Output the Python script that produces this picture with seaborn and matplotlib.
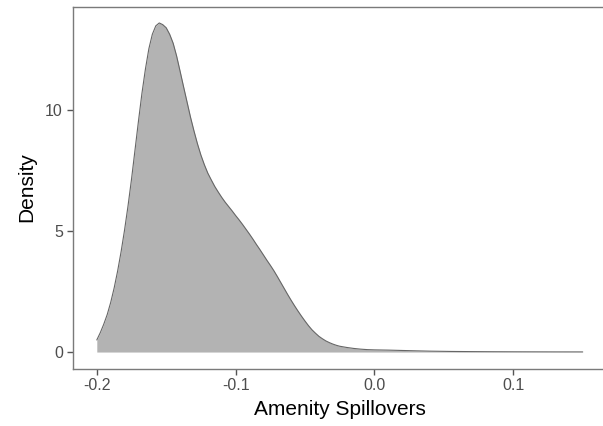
import matplotlib
matplotlib.use("Agg")
import matplotlib.pyplot as plt
import seaborn as sns
import pandas as pd

# Estimated density curve of amenity spillovers
spillover = [-0.2000, -0.1975, -0.1950, -0.1925, -0.1900, -0.1875, -0.1850, -0.1825,
             -0.1800, -0.1775, -0.1750, -0.1725, -0.1700, -0.1675, -0.1650, -0.1625,
             -0.1600, -0.1575, -0.1550, -0.1525, -0.1500, -0.1475, -0.1450, -0.1425,
             -0.1400, -0.1375, -0.1350, -0.1325, -0.1300, -0.1275, -0.1250, -0.1225,
             -0.1200, -0.1175, -0.1150, -0.1125, -0.1100, -0.1075, -0.1050, -0.1025,
             -0.1000, -0.0975, -0.0950, -0.0925, -0.0900, -0.0875, -0.0850, -0.0825,
             -0.0800, -0.0775, -0.0750, -0.0725, -0.0700, -0.0675, -0.0650, -0.0625,
             -0.0600, -0.0575, -0.0550, -0.0525, -0.0500, -0.0475, -0.0450, -0.0425,
             -0.0400, -0.0375, -0.0350, -0.0325, -0.0300, -0.0275, -0.0250, -0.0200,
             -0.0150, -0.0100, -0.0050, 0.0000, 0.0100, 0.0200, 0.0300, 0.0400,
             0.0550, 0.0700, 0.0850, 0.1000, 0.1150, 0.1300, 0.1500]
density = [0.50, 0.80, 1.15, 1.55, 2.05, 2.65, 3.35, 4.15,
           5.05, 6.05, 7.15, 8.35, 9.55, 10.70, 11.70, 12.55,
           13.15, 13.50, 13.62, 13.55, 13.42, 13.15, 12.78, 12.25,
           11.62, 10.98, 10.35, 9.72, 9.15, 8.62, 8.15, 7.75,
           7.40, 7.12, 6.85, 6.62, 6.40, 6.20, 6.02, 5.84,
           5.65, 5.47, 5.28, 5.08, 4.88, 4.67, 4.45, 4.24,
           4.02, 3.80, 3.59, 3.37, 3.13, 2.88, 2.63, 2.38,
           2.14, 1.91, 1.69, 1.48, 1.28, 1.09, 0.92, 0.78,
           0.65, 0.55, 0.46, 0.39, 0.33, 0.28, 0.24, 0.19,
           0.15, 0.12, 0.10, 0.09, 0.08, 0.065, 0.05, 0.037,
           0.025, 0.018, 0.013, 0.010, 0.008, 0.006, 0.005]

x_ticks = [-0.2, -0.1, 0.0, 0.1]
x_tick_labels = ["-0.2", "-0.1", "0.0", "0.1"]
y_ticks = [0, 5, 10]
y_tick_labels = ["0", "5", "10"]

df = pd.DataFrame({"Amenity Spillovers": spillover, "Density": density})

sns.set_style("white")
plt.rcParams["font.family"] = ["Liberation Sans", "DejaVu Sans"]

W, H = 603, 426
fig = plt.figure(figsize=(W / 100, H / 100), dpi=100)
ax = fig.add_axes([72.5 / W, (H - 368.5) / H, (607 - 72.5) / W, (368.5 - 6.5) / H])

ax.fill_between(df["Amenity Spillovers"], 0, df["Density"],
                color="#b3b3b3", linewidth=0, zorder=1)
sns.lineplot(data=df, x="Amenity Spillovers", y="Density", ax=ax,
             color="#666666", linewidth=0.8, sort=False, zorder=2)
ax.lines[-1].set_solid_joinstyle("round")

xmin, xmax = min(spillover), max(spillover)
xr = xmax - xmin
ymax = max(density)
ax.set_xlim(xmin - 0.05 * xr, xmax + 0.05 * xr)
ax.set_ylim(-0.05 * ymax, 1.05 * ymax)

ax.set_xticks(x_ticks)
ax.set_xticklabels(x_tick_labels)
ax.set_yticks(y_ticks)
ax.set_yticklabels(y_tick_labels)

ax.tick_params(axis="both", which="major", direction="out", length=4, width=1,
               color="#555555", labelcolor="#4d4d4d", labelsize=11.5, pad=3,
               bottom=True, left=True)

for side in ["left", "bottom", "top"]:
    ax.spines[side].set_visible(True)
    ax.spines[side].set_color("#7a7a7a")
    ax.spines[side].set_linewidth(1.0)
ax.spines["right"].set_visible(False)

ax.set_xlabel("Amenity Spillovers", fontsize=15, color="black", labelpad=5)
ax.set_ylabel("Density", fontsize=15, color="black", labelpad=6)

fig.savefig("out.png", dpi=100)
